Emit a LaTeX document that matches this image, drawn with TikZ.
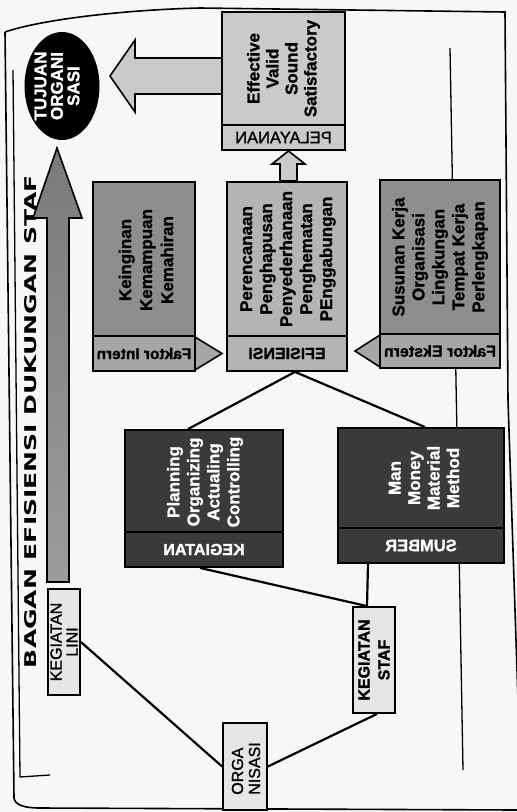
\documentclass[tikz,border=0pt]{standalone}
\usepackage{fontspec}
\setmainfont{Liberation Sans}[BoldFont={Liberation Sans Bold}]
\newfontfamily\titlefont{DejaVu Sans}[BoldFont={DejaVu Sans Bold}]
\newfontfamily\heavy{Liberation Sans Bold}[FakeBold=1.2]
\newfontfamily\plainheavy{Liberation Sans}[FakeBold=1.2]
\usepackage{graphicx}
\usetikzlibrary{shapes.geometric}

\definecolor{cPaper}{HTML}{F7F7F7}
\definecolor{cPale}{HTML}{E6E6E6}
\definecolor{cLight}{HTML}{CACACA}
\definecolor{cEfi}{HTML}{B4B4B4}
\definecolor{cMid}{HTML}{8E8E8E}
\definecolor{cMidHdr}{HTML}{A6A6A6}
\definecolor{cDark}{HTML}{3A3A3A}
\definecolor{cShaftTop}{HTML}{7A7A7A}
\definecolor{cShaftBot}{HTML}{9C9C9C}

\begin{document}
\begin{tikzpicture}[x=1pt,y=-1pt,
  box/.style={draw, line width=1.8pt, inner sep=0pt, rectangle},
  bodytxt/.style={rotate=90, align=center, inner sep=0pt,
    font=\heavy\fontsize{17}{20}\selectfont},
  hdrtxt/.style={inner sep=0pt, font=\heavy\fontsize{16}{18}\selectfont},
  tagtxt/.style={rotate=90, align=center, inner sep=0pt,
    font=\heavy\fontsize{16}{17}\selectfont},
  link/.style={line width=2.2pt},
  pointer/.style={draw, line width=1.6pt, line join=miter},
]
% page
\fill[cPaper] (0,0) rectangle (517,812);
\useasboundingbox (0,0) rectangle (517,812);

% page frame
\draw[line width=1.6pt] (5,32) .. controls (40,20) and (120,10) .. (200,8) -- (505,12)
  -- (508,400) -- (518,700);
\draw[line width=1.6pt] (5,32) -- (14,798) .. controls (15,805) and (24,808) .. (40,808) -- (517,810);
\draw[line width=1.3pt] (13,70) -- (20,777) -- (50,775);

% thin guide line on the right
\draw[line width=1.3pt] (450,48) -- (463,770);

% title
\node[rotate=90, inner sep=0pt] (title) at (31,421.5)
  {\resizebox{493pt}{12pt}{\titlefont\bfseries BAGAN EFISIENSI DUKUNGAN STAF}};

% big upward arrow
\shade[top color=cShaftTop, bottom color=cShaftBot, draw=black, line width=1.6pt, line join=miter]
  (57,148) -- (82,218) -- (69,218) -- (69,582) -- (47,582) -- (47,218) -- (33,218) -- cycle;

% goal ellipse
\node[ellipse, fill=black, minimum width=75pt, minimum height=108pt, inner sep=0pt] (goal) at (62,86) {};
\node[rotate=90, align=center, inner sep=0pt, text=white,
  font=\heavy\fontsize{17}{16.5}\selectfont] (goalT) at (57,86) {TUJUAN\\ORGANI\\SASI};

% arrow from service to goal
\draw[pointer, fill=cLight] (110,76) -- (135,40) -- (135,58) -- (222,58) -- (222,94)
  -- (135,94) -- (135,112) -- cycle;

% service block
\node[box, fill=cLight, minimum width=123pt, minimum height=113pt] (eff) at (283.5,68.5) {};
\node[box, fill=cLight, minimum width=123pt, minimum height=25pt] (pel) at (283.5,137.5) {};
\node[bodytxt, font=\heavy\fontsize{17}{19}\selectfont] (effT) at (eff)
  {Effective\\Valid\\Sound\\Satisfactory};
\node[hdrtxt, font=\plainheavy\fontsize{16.5}{18}\selectfont] (pelT) at (pel) {\reflectbox{PELAYANAN}};

% small arrow from efficiency to service
\draw[pointer, fill=cLight] (288.5,151) -- (305,164) -- (297,164) -- (297,181)
  -- (280,181) -- (280,164) -- (272,164) -- cycle;

% internal factors block
\draw[pointer, fill=cMidHdr] (195,337) -- (222,353.5) -- (195,370) -- cycle;
\node[box, fill=cMid, minimum width=102pt, minimum height=154pt] (intern) at (144,259) {};
\node[box, fill=cMidHdr, minimum width=102pt, minimum height=35pt] (internH) at (144,353.5) {};
\node[bodytxt, font=\heavy\fontsize{17}{21}\selectfont] (internT) at (146,260)
  {Keinginan\\Kemampuan\\Kemahiran};
\node[hdrtxt, font=\heavy\fontsize{15.5}{18}\selectfont] (internHT) at (internH) {\reflectbox{Faktor Intern}};

% efficiency block
\node[box, fill=cEfi, minimum width=120pt, minimum height=154pt] (efi) at (287,259) {};
\node[box, fill=cEfi, minimum width=120pt, minimum height=35pt] (efiH) at (287,353.5) {};
\node[bodytxt] (efiT) at (288,259)
  {Perencanaan\\Penghapusan\\Penyederhanaan\\Penghematan\\PEnggabungan};
\node[hdrtxt] (efiHT) at (efiH) {\reflectbox{EFISIENSI}};

% external factors block
\draw[pointer, fill=cMidHdr] (380,335) -- (355,351) -- (380,367) -- cycle;
\node[box, fill=cMid, minimum width=120pt, minimum height=154pt] (ekstern) at (440,257) {};
\node[box, fill=cMidHdr, minimum width=120pt, minimum height=34pt] (eksternH) at (440,351) {};
\node[bodytxt] (eksternT) at (440,257)
  {Susunan Kerja\\Organisasi\\Lingkungan\\Tempat Kerja\\Perlengkapan};
\node[hdrtxt] (eksternHT) at (eksternH) {\reflectbox{Faktor Ekstern}};

% activities block
\node[box, fill=cDark, minimum width=158pt, minimum height=102pt] (keg) at (204,481) {};
\node[box, fill=cDark, minimum width=158pt, minimum height=35pt] (kegH) at (204,549.5) {};
\node[bodytxt, text=white] (kegT) at (205,482)
  {Planning\\Organizing\\Actualing\\Controlling};
\node[hdrtxt, text=white] (kegHT) at (kegH) {\reflectbox{KEGIATAN}};

% resources block
\node[box, fill=cDark, minimum width=166pt, minimum height=100pt] (sum) at (421,478) {};
\node[box, fill=cDark, minimum width=166pt, minimum height=35pt] (sumH) at (421,545.5) {};
\node[bodytxt, font=\heavy\fontsize{17}{19.5}\selectfont, text=white] (sumT) at (424,478)
  {Man\\Money\\Material\\Method};
\node[hdrtxt, text=white, font=\heavy\fontsize{16.5}{18}\selectfont] (sumHT) at (sumH) {\reflectbox{SUMBER}};

% line and staff activity tags
\node[box, fill=cPale, minimum width=32pt, minimum height=106pt] (lini) at (64,642) {};
\node[tagtxt, font=\plainheavy\fontsize{16}{16}\selectfont] (liniT) at (lini) {KEGIATAN\\LINI};
\node[box, fill=cPale, minimum width=42pt, minimum height=106pt] (staf) at (374,660) {};
\node[tagtxt, font=\heavy\fontsize{16}{20}\selectfont] (stafT) at (staf) {KEGIATAN\\STAF};

% organisation
\node[box, fill=cPale, minimum width=44pt, minimum height=87pt] (org) at (245,766.5) {};
\node[rotate=90, align=left, inner sep=0pt, font=\plainheavy\fontsize{16}{17}\selectfont] (orgT)
  at (246,768.5) {ORGA\\NISASI};

% connectors
\draw[link] (lini.east) -- (org.west);
\draw[link] (org.east) -- ([xshift=3pt]staf.south);
\draw[link] ([xshift=-7pt]staf.north) -- ([xshift=-53pt]sumH.south);
\draw[link] ([xshift=-7pt]staf.north) -- ([xshift=-4pt]kegH.south);
\draw[link] ([xshift=-16pt]keg.north) -- ([xshift=8pt]efiH.south);
\draw[link] ([xshift=4pt]sum.north) -- ([xshift=8pt]efiH.south);
\end{tikzpicture}
\end{document}
